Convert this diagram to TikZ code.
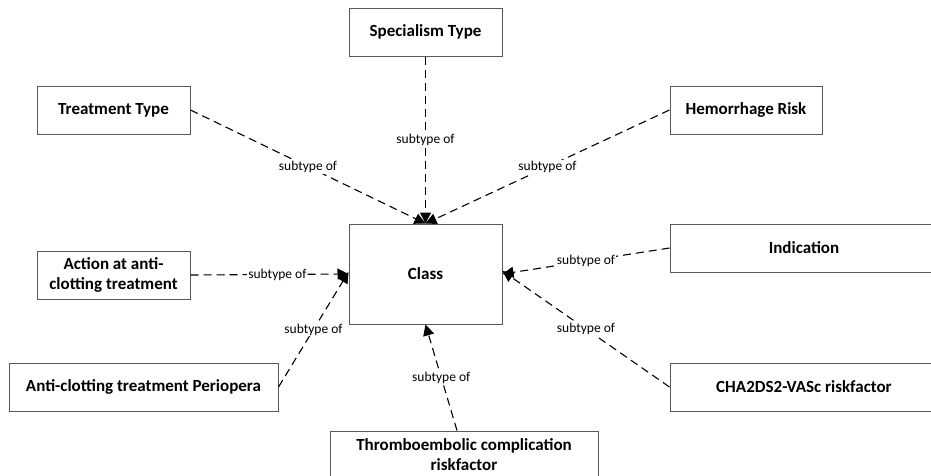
\documentclass[tikz,border=0pt]{standalone}
\usepackage{fontspec}
\setmainfont{Carlito}
\usetikzlibrary{arrows.meta}

\begin{document}
\begin{tikzpicture}[x=1pt, y=-1pt,
    box/.style={draw=black!65, line width=1pt, fill=white, inner sep=0pt,
                align=center, font=\bfseries\fontsize{17}{20}\selectfont},
    arr/.style={-{Triangle[length=11pt,width=11pt]}, dash pattern=on 8pt off 5pt,
                line width=1.1pt},
    lbl/.style={fill=white, inner sep=1pt, font=\fontsize{13.5}{15}\selectfont}
  ]
  \useasboundingbox[fill=white] (0,0) rectangle (931,475);
  \node[box, minimum width=153pt, minimum height=100pt] (class) at (425.5,274) {Class};
  \node[box, minimum width=153pt, minimum height=48pt] (spec)   at (425.5,32)  {Specialism Type};
  \node[box, minimum width=153pt, minimum height=48pt] (treat)  at (113.5,110) {Treatment Type};
  \node[box, minimum width=152pt, minimum height=48pt] (hemo)   at (746,110)   {Hemorrhage Risk};
  \node[box, minimum width=153pt, minimum height=48pt] (action) at (113.5,275) {Action at anti-\\clotting treatment};
  \node[box, minimum width=268pt, minimum height=48pt] (indic)  at (804,248)   {Indication};
  \node[box, minimum width=269pt, minimum height=48pt] (anti)   at (143.5,387) {Anti-clotting treatment Periopera};
  \node[box, minimum width=268pt, minimum height=48pt] (cha)    at (804,387)   {CHA2DS2-VASc riskfactor};
  \node[box, minimum width=268pt, minimum height=48pt] (thrombo) at (464,455)  {Thromboembolic complication\\riskfactor};
  % subtype links
  \draw[arr] (spec) -- node[lbl]{subtype of} (class.north);
  \draw[arr] (treat.east) -- node[lbl]{subtype of} (class.north);
  \draw[arr] (hemo.west) -- node[lbl]{subtype of} (class.north);
  \draw[arr] (action.east) -- node[lbl, pos=0.55]{subtype of} (class.west);
  \draw[arr] (anti.east) -- node[lbl]{subtype of} ([yshift=2pt]class.west);
  \draw[arr] (indic.west) -- node[lbl]{subtype of} (class.east);
  \draw[arr] (cha.west) -- node[lbl]{subtype of} ([yshift=3pt]class.east);
  \draw[arr] ([xshift=-7pt]thrombo.north) -- node[lbl]{subtype of} (class.south);
\end{tikzpicture}
\end{document}
